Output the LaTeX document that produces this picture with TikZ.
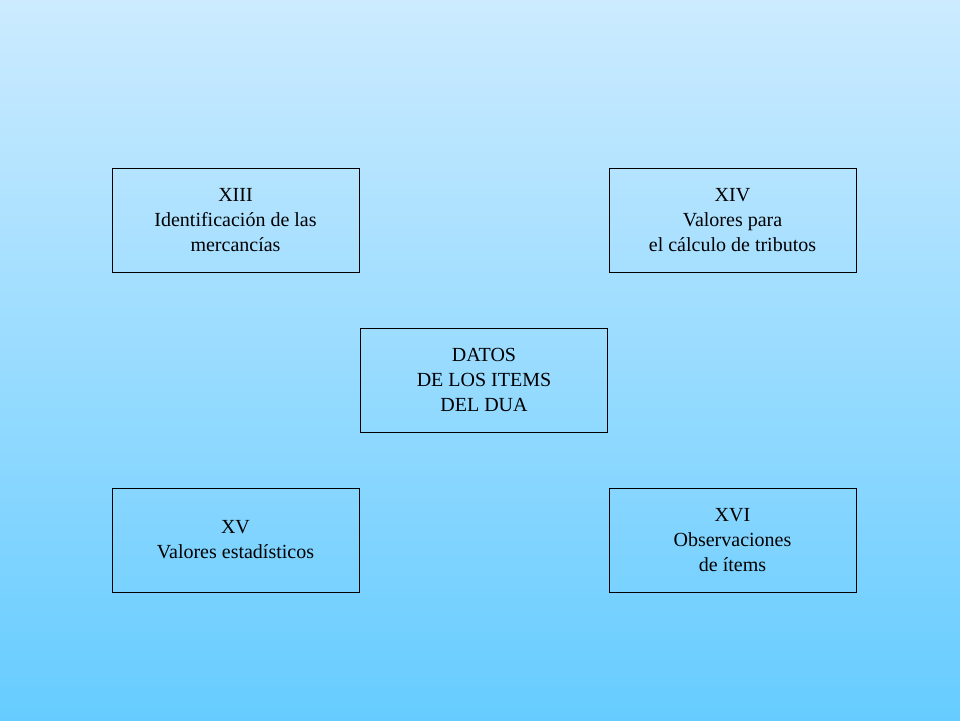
\documentclass[tikz,border=0pt]{standalone}
\usepackage{fontspec}
\setmainfont{Liberation Serif}
\usepackage{xcolor}
\definecolor{skytop}{HTML}{CCEBFF}
\definecolor{skybottom}{HTML}{66CCFF}
\newcommand{\itemfont}{\fontsize{20}{25}\selectfont}

\begin{document}
\begin{tikzpicture}[x=1pt,y=1pt]
\tikzstyle{every node}+=[inner sep=0pt]
\tikzstyle{itembox}=[draw=black, line width=0.8pt, minimum width=247pt, minimum height=104pt, align=center, font=\itemfont]
\useasboundingbox (0,0) rectangle (960,720);
\shade [top color=skytop, bottom color=skybottom] (0,0) rectangle (960,720);
\node [itembox] (xiii) at (235.5,500) {XIII\\Identificación de las\\mercancías};
\node [itembox] (xiv) at (732.5,500) {XIV\\Valores para\\el cálculo de tributos};
\node [itembox] (datos) at (484,340) {DATOS\\DE LOS ITEMS\\DEL DUA};
\node [itembox] (xv) at (235.5,180) {XV\\Valores estadísticos};
\node [itembox] (xvi) at (732.5,180) {XVI\\Observaciones\\ de ítems};
\end{tikzpicture}
\end{document}
